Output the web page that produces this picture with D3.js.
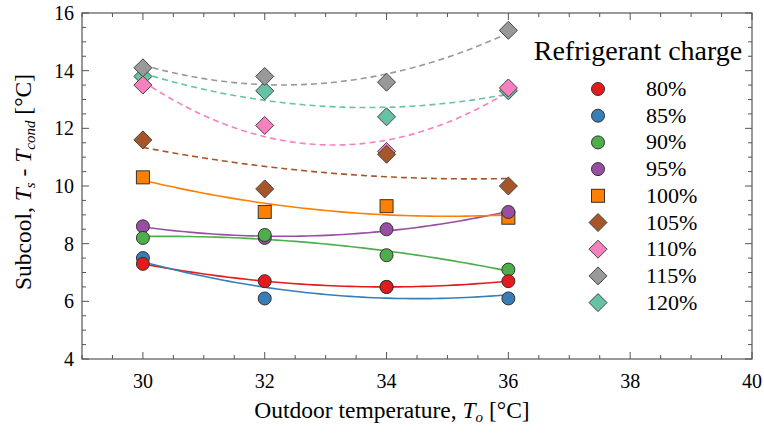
<!DOCTYPE html>
<html>
<head>
<meta charset="utf-8">
<script src="https://cdn.jsdelivr.net/npm/d3@7"></script>
<style>
  body { margin: 0; background: #fff; }
</style>
</head>
<body>
<svg width="764" height="434"></svg>
<script>
// outdoor temperatures where each charge level was measured
const temps = [30, 32, 34, 36];
const charges = ["80%", "85%", "90%", "95%", "100%", "105%", "110%", "115%", "120%"];
const s80 = [7.3, 6.7, 6.5, 6.7];
const s85 = [7.5, 6.1, 6.5, 6.1];
const s90 = [8.2, 8.3, 7.6, 7.1];
const s95 = [8.6, 8.2, 8.5, 9.1];
const s100 = [10.3, 9.1, 9.3, 8.9];
const s105 = [11.6, 9.9, 11.1, 10.0];
const s110 = [13.5, 12.1, 11.2, 13.4];
const s115 = [14.1, 13.8, 13.6, 15.4];
const s120 = [13.8, 13.3, 12.4, 13.3];
const xTicks = [30, 32, 34, 36, 38, 40];
const yTicks = [4, 6, 8, 10, 12, 14, 16];

const values = [s80, s85, s90, s95, s100, s105, s110, s115, s120];
const colors = ["#e41a1c", "#377eb8", "#4daf4a", "#984ea3", "#ff7f00", "#a65628", "#f781bf", "#999999", "#66c2a5"];
const shapes = ["circle", "circle", "circle", "circle", "square", "diamond", "diamond", "diamond", "diamond"];

const svg = d3.select("svg")
  .attr("font-family", "'Liberation Serif', 'DejaVu Serif', serif");
const pLeft = 82, pRight = 752, pTop = 13, pBottom = 359;

const x = d3.scaleLinear().domain([29, 40]).range([pLeft, pRight]);
const y = d3.scaleLinear().domain([4, 16]).range([pBottom, pTop]);

// quadratic least squares fit, like the trend lines in the figure
function quadFit(xs, ys) {
  let S = [[0, 0, 0], [0, 0, 0], [0, 0, 0]], B = [0, 0, 0];
  xs.forEach(function(xv, i) {
    const p = [1, xv, xv * xv];
    for (let r = 0; r < 3; r++) {
      B[r] += p[r] * ys[i];
      for (let c = 0; c < 3; c++) S[r][c] += p[r] * p[c];
    }
  });
  // gaussian elimination
  for (let k = 0; k < 3; k++) {
    for (let r = k + 1; r < 3; r++) {
      const f = S[r][k] / S[k][k];
      for (let c = k; c < 3; c++) S[r][c] -= f * S[k][c];
      B[r] -= f * B[k];
    }
  }
  const a = [0, 0, 0];
  for (let r = 2; r >= 0; r--) {
    let s = B[r];
    for (let c = r + 1; c < 3; c++) s -= S[r][c] * a[c];
    a[r] = s / S[r][r];
  }
  return function(t) { return a[0] + a[1] * t + a[2] * t * t; };
}

// frame
svg.append("rect")
  .attr("x", pLeft).attr("y", pTop)
  .attr("width", pRight - pLeft).attr("height", pBottom - pTop)
  .attr("fill", "none").attr("stroke", "#555").attr("stroke-width", 1.2);

// ticks (inward, mirrored)
const xMinor = d3.range(29, 40.01, 0.5);
const yMinor = d3.range(4, 16.01, 0.5);
const tickG = svg.append("g").attr("stroke", "#555").attr("stroke-width", 1);
xMinor.forEach(function(v) {
  const len = (Math.abs(v % 2) < 1e-6) ? 7 : 4;
  tickG.append("line").attr("x1", x(v)).attr("x2", x(v)).attr("y1", pBottom).attr("y2", pBottom - len);
  tickG.append("line").attr("x1", x(v)).attr("x2", x(v)).attr("y1", pTop).attr("y2", pTop + len);
});
yMinor.forEach(function(v) {
  const len = (Math.abs(v % 2) < 1e-6) ? 7 : 4;
  tickG.append("line").attr("x1", pLeft).attr("x2", pLeft + len).attr("y1", y(v)).attr("y2", y(v));
  tickG.append("line").attr("x1", pRight).attr("x2", pRight - len).attr("y1", y(v)).attr("y2", y(v));
});

// tick labels
svg.append("g").selectAll("text")
  .data(xTicks).join("text")
  .attr("x", function(d) { return x(d); })
  .attr("y", 388)
  .attr("text-anchor", "middle")
  .attr("font-size", 20)
  .text(function(d) { return d; });

svg.append("g").selectAll("text")
  .data(yTicks).join("text")
  .attr("x", 74)
  .attr("y", function(d) { return y(d) + 7; })
  .attr("text-anchor", "end")
  .attr("font-size", 20)
  .text(function(d) { return d; });

// axis titles
const xt = svg.append("text")
  .attr("x", 392).attr("y", 418)
  .attr("text-anchor", "middle")
  .attr("font-size", 23.5);
xt.append("tspan").text("Outdoor temperature, ");
xt.append("tspan").attr("font-style", "italic").text("T");
xt.append("tspan").attr("font-style", "italic").attr("font-size", 15).attr("dy", 4).text("o");
xt.append("tspan").attr("dy", -4).text(" [°C]");

const yt = svg.append("text")
  .attr("transform", "translate(31,182) rotate(-90)")
  .attr("text-anchor", "middle")
  .attr("font-size", 23.5);
yt.append("tspan").text("Subcool, ");
yt.append("tspan").attr("font-style", "italic").text("T");
yt.append("tspan").attr("font-style", "italic").attr("font-size", 15).attr("dy", 4).text("s");
yt.append("tspan").attr("dy", -4).text(" - ");
yt.append("tspan").attr("font-style", "italic").text("T");
yt.append("tspan").attr("font-style", "italic").attr("font-size", 15).attr("dy", 4).text("cond");
yt.append("tspan").attr("dy", -4).text(" [°C]");

// fit lines
const line = d3.line()
  .x(function(d) { return x(d[0]); })
  .y(function(d) { return y(d[1]); });
const fitX = d3.range(30, 36.001, 0.1);
const lineG = svg.append("g");
values.forEach(function(vals, i) {
  const f = quadFit(temps, vals);
  lineG.append("path")
    .attr("d", line(fitX.map(function(t) { return [t, f(t)]; })))
    .attr("fill", "none")
    .attr("stroke", colors[i])
    .attr("stroke-width", 1.6)
    .attr("stroke-dasharray", shapes[i] === "diamond" ? "6,4" : null);
});

function drawMarker(g, shape, cx, cy, color) {
  if (shape === "circle") {
    g.append("circle").attr("cx", cx).attr("cy", cy).attr("r", 6.5)
      .attr("fill", color).attr("stroke", "#333").attr("stroke-width", 1);
  } else if (shape === "square") {
    g.append("rect").attr("x", cx - 6.5).attr("y", cy - 6.5).attr("width", 13).attr("height", 13)
      .attr("fill", color).attr("stroke", "#333").attr("stroke-width", 1);
  } else {
    const r = 9;
    g.append("path")
      .attr("d", "M" + cx + "," + (cy - r) + "L" + (cx + r) + "," + cy + "L" + cx + "," + (cy + r) + "L" + (cx - r) + "," + cy + "Z")
      .attr("fill", color).attr("stroke", "#444").attr("stroke-width", 1);
  }
}

// points, last series drawn first
const ptG = svg.append("g");
for (let i = values.length - 1; i >= 0; i--) {
  values[i].forEach(function(v, j) {
    drawMarker(ptG, shapes[i], x(temps[j]), y(v), colors[i]);
  });
}

// legend
const legG = svg.append("g");
legG.append("text")
  .attr("x", 638).attr("y", 60)
  .attr("text-anchor", "middle")
  .attr("font-size", 28)
  .text("Refrigerant charge");
charges.forEach(function(c, i) {
  const ly = 89 + i * 26.7;
  drawMarker(legG, shapes[i], 598, ly, colors[i]);
  legG.append("text")
    .attr("x", 646).attr("y", ly + 7)
    .attr("font-size", 22)
    .text(c);
});
</script>
</body>
</html>
